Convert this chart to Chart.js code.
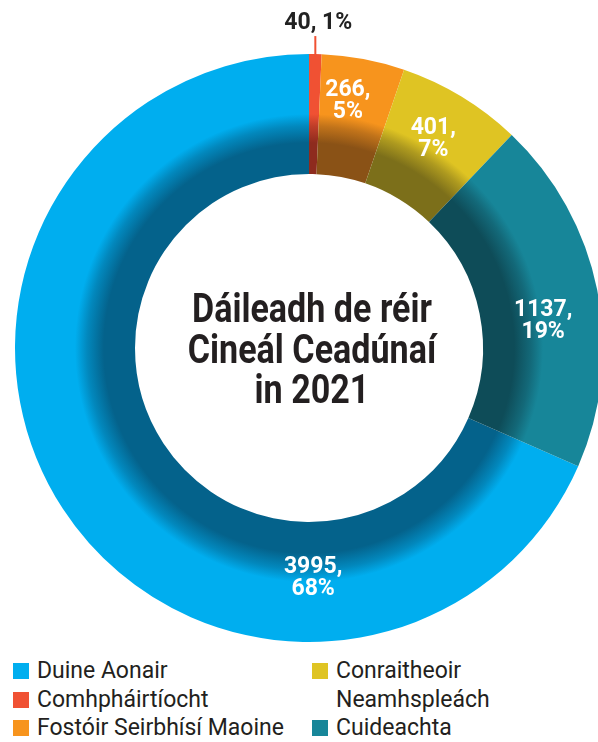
<!DOCTYPE html>
<html>
<head>
<meta charset="utf-8">
<script src="https://cdn.jsdelivr.net/npm/chart.js@4.4.1/dist/chart.umd.min.js"></script>
<style>
  html, body { margin: 0; padding: 0; width: 598px; height: 742px; overflow: hidden; background: #fff; }
  #wrap { position: absolute; left: 0; top: 0; width: 620px; height: 650px; }
  .leg { position: absolute; font-family: Roboto, "Liberation Sans", sans-serif; font-weight: 400; font-size: 23px; color: #231F20; line-height: 28.5px; white-space: nowrap; }
  .leg span.sw { display: inline-block; width: 16px; height: 16px; margin-right: 8px; vertical-align: -1px; }
  .leg .indent { padding-left: 24px; }
</style>
</head>
<body>
<div id="wrap"><canvas id="ring"></canvas></div>
<div class="leg" id="legLeft" style="left:13px; top:657px;"></div>
<div class="leg" id="legRight" style="left:312px; top:657px;"></div>
<script>
// dáileadh de réir cineál ceadúnaí
const categories = ['Duine Aonair', 'Comhpháirtíocht', 'Fostóir Seirbhísí Maoine', 'Conraitheoir Neamhspleách', 'Cuideachta'];
const counts = [3995, 40, 266, 401, 1137];
const percents = [68, 1, 5, 7, 19];
const colours = ['#00AEEF', '#F05133', '#F7941D', '#DFC423', '#178699'];
const shades = ['#04628B', '#8E2B1E', '#8A5216', '#7C6F1A', '#0E4C58'];
const titleLines = ['Dáileadh de réir', 'Cineál Ceadúnaí', 'in 2021'];

const CUTOUT = 174 / 294;
const total = counts.reduce((a, b) => a + b, 0);

// label placement along each arc (fraction of the arc, radius)
const labelAt = [[0.265, 228], [0.5, 0], [0.39, 252], [0.47, 245], [0.56, 236]];

function ringFill(c) {
  const chart = c.chart, area = chart.chartArea;
  const i = c.dataIndex;
  if (!area) return colours[i];
  const cx = (area.left + area.right) / 2, cy = (area.top + area.bottom) / 2;
  const outer = Math.min(area.width, area.height) / 2;
  const inner = outer * CUTOUT;
  const g = chart.ctx.createRadialGradient(cx, cy, inner, cx, cy, outer);
  g.addColorStop(0, shades[i]);
  g.addColorStop(0.26, shades[i]);
  g.addColorStop(0.4, Chart.helpers.color(shades[i]).mix(Chart.helpers.color(colours[i]), 0.5).hexString());
  g.addColorStop(0.5, colours[i]);
  g.addColorStop(1, colours[i]);
  return g;
}

const ringLabels = {
  id: 'ringLabels',
  afterDatasetsDraw(chart) {
    const ctx = chart.ctx;
    const arcs = chart.getDatasetMeta(0).data;
    ctx.save();
    ctx.textAlign = 'center';
    ctx.textBaseline = 'alphabetic';
    arcs.forEach((arc, i) => {
      const a = arc.startAngle + labelAt[i][0] * (arc.endAngle - arc.startAngle);
      if (percents[i] < 2) {
        // small slice: leader line and label outside
        const x = arc.x + Math.cos(a) * arc.outerRadius;
        const y = arc.y + Math.sin(a) * arc.outerRadius;
        ctx.strokeStyle = colours[i];
        ctx.lineWidth = 2;
        ctx.beginPath();
        ctx.moveTo(x, y + 2);
        ctx.lineTo(x, y - 18);
        ctx.stroke();
        ctx.fillStyle = '#222';
        ctx.font = 'bold 23px Roboto, "Liberation Sans", sans-serif';
        ctx.fillText(counts[i] + ', ' + percents[i] + '%', x + 3, y - 25);
        return;
      }
      const r = labelAt[i][1];
      const x = arc.x + Math.cos(a) * r;
      const y = arc.y + Math.sin(a) * r;
      ctx.fillStyle = '#fff';
      ctx.font = 'bold 23px Roboto, "Liberation Sans", sans-serif';
      ctx.fillText(counts[i] + ',', x, y - 3);
      ctx.fillText(percents[i] + '%', x, y + 19);
    });
    // title in the hole, squeezed to look condensed
    const cx = arcs[0].x + 3, cy = arcs[0].y;
    ctx.fillStyle = '#231F20';
    ctx.font = 'bold 41px Roboto, "Liberation Sans", sans-serif';
    const squeeze = 240 / ctx.measureText(titleLines[0]).width;
    ctx.translate(cx, 0);
    ctx.scale(squeeze, 1);
    titleLines.forEach((t, k) => ctx.fillText(t, 0, cy - 26 + k * 40.5));
    ctx.restore();
  }
};

new Chart(document.getElementById('ring'), {
  type: 'doughnut',
  data: {
    labels: categories,
    datasets: [{
      data: counts,
      backgroundColor: ringFill,
      borderWidth: 0
    }]
  },
  options: {
    responsive: true,
    maintainAspectRatio: false,
    animation: false,
    cutout: (CUTOUT * 100) + '%',
    rotation: -360 * counts[0] / total,
    layout: { padding: { left: 15, top: 54, right: 17, bottom: 8 } },
    plugins: { legend: { display: false }, tooltip: { enabled: false } }
  },
  plugins: [ringLabels]
});

// legend in two columns, filled top to bottom
function legendItem(i) {
  const words = categories[i].split(' ');
  if (i === 3) {
    return '<div><span class="sw" style="background:' + colours[i] + '"></span>' + words[0] + '</div>' +
           '<div class="indent">' + words[1] + '</div>';
  }
  return '<div><span class="sw" style="background:' + colours[i] + '"></span>' + categories[i] + '</div>';
}
document.getElementById('legLeft').innerHTML = [0, 1, 2].map(legendItem).join('');
document.getElementById('legRight').innerHTML = [3, 4].map(legendItem).join('');
</script>
</body>
</html>
